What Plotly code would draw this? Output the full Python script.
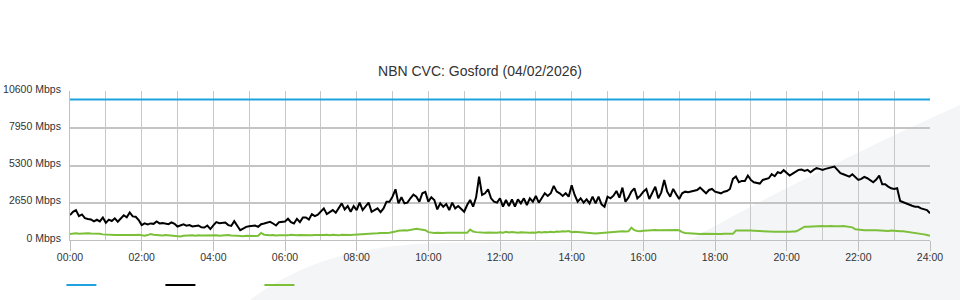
import numpy as np
import plotly.graph_objects as go

# ---- data (5-minute samples, 00:00 .. 24:00) ----
tick_labels = ["00:00", "02:00", "04:00", "06:00", "08:00", "10:00", "12:00",
               "14:00", "16:00", "18:00", "20:00", "22:00", "24:00"]
y_tick_values = [0, 2650, 5300, 7950, 10600]
y_tick_labels = ["0 Mbps", "2650 Mbps", "5300 Mbps", "7950 Mbps", "10600 Mbps"]

capacity_mbps = 10000

traffic_mbps = [
    1770, 2000, 2130, 1700, 1820, 1550, 1500, 1460, 1320, 1440, 1320, 1600,
    1220, 1450, 1350, 1540, 1300, 1560, 1760, 1620, 1960, 1680, 1650, 1420,
    1060, 1180, 1110, 1180, 1150, 1320, 1180, 1200, 1190, 1130, 1260, 1150,
    960, 1010, 1110, 1020, 1060, 960, 980, 1030, 900, 890, 1030, 780,
    1040, 1270, 1200, 1210, 1250, 1060, 1000, 1340, 980,
    697, 816, 935, 983, 1007, 1031, 935, 1127, 1175, 1222, 1294, 1175,
    1031, 1270, 1270, 1318, 1509, 1270, 1175, 1509, 1270, 1605, 1605, 1461,
    1843, 1700, 1795, 1986, 2249, 1843, 2010, 2130, 1938, 2249, 2607, 2177,
    2416, 2010, 2416, 2130, 2655, 2130, 2368, 2655, 2010, 2130, 2249, 1986,
    2249, 2727, 2727, 3085, 3610, 2607, 3038, 2607, 2655, 2966, 3229,
    3085, 2727, 3324, 3420, 2727, 3038, 2847, 2177, 2607, 2368, 2560, 2130,
    2655, 2249, 2416, 2177, 2010, 2488, 2847, 2368, 3038, 4513, 3205, 3324,
    3610, 2966, 2727, 2655, 2966, 2368, 2847, 2416, 2894, 2368, 2894, 2607,
    2966, 2488, 2966, 2727, 3133, 2655, 2966, 3324, 3133, 3324, 3849, 3443,
    3324, 3133, 3324, 3085, 3897, 3205, 2727, 2966, 2655, 2894,
    2604, 3081, 2604, 3081, 2532, 2365, 3081, 2962, 3153, 3487, 3010, 3726,
    2723, 3010, 3440, 3678, 2962, 3153, 3440, 3630, 2914, 3320, 3797, 2962,
    3392, 4274, 3440, 3081, 3630, 3249, 2914, 3320, 3440, 3392, 3440, 3487,
    3559, 3726, 3487, 3320, 3559, 3630, 3440, 3392, 3320, 3440, 3487, 3630,
    4346, 4513, 4107, 4203, 4203, 4584, 4274, 4107, 4036,
    4012, 4274, 4346, 4393, 4680, 4536, 4823, 4751, 4966, 4751, 4584, 4727,
    4871, 4990, 5014, 4918, 4990, 4823, 4990, 5109, 5061, 4990, 5061, 5109,
    5157, 5228, 4990, 4751, 4680, 4584, 4513, 4680, 4441, 4274, 4346, 4489,
    4393, 4274, 4107, 4298, 4584, 3964, 3964, 3797, 3678, 3630, 3678, 2771,
    2675, 2604, 2532, 2437, 2365, 2365, 2246, 2198, 2127, 1900,
]

upload_mbps = [
    420, 460, 480, 450, 470, 440, 480, 460, 470, 430, 440, 400,
    380, 360, 390, 350, 360, 340, 350, 360, 350, 340, 360, 380,
    330, 300, 350, 420, 380, 350, 330, 320, 360, 340, 330, 310,
    280, 250, 300, 320, 310, 330, 300, 340, 320, 330, 310, 300,
    320, 340, 300, 330, 310, 350, 320, 330, 300, 280, 260, 300,
    280, 290, 280, 300, 500, 380, 340, 330, 360, 320, 340, 330,
    350, 330, 370, 340, 330, 360, 350, 330, 370, 340, 360, 350,
    360, 350, 380, 340, 370, 360, 330, 380, 360, 390, 350, 370,
    380, 400, 390, 420, 400, 430, 450, 480, 500, 470, 490, 520,
    540, 600, 650, 690, 700, 680, 720, 780, 800, 760, 740, 700,
    560, 520, 500, 510, 490, 500, 510, 500, 490, 500, 510, 520,
    500, 520, 740, 600, 560, 540, 560, 520, 540, 520, 530, 520,
    550, 520, 580, 530, 560, 540, 510, 550, 530, 490, 520, 540,
    520, 560, 530, 570, 550, 590, 560, 600, 580, 620, 600, 640,
    560, 580, 560, 540, 520, 500, 520, 500, 460, 480, 500, 490,
    500, 520, 560, 580, 600, 620, 600, 620, 880, 700, 640, 620,
    660, 680, 700, 690, 720, 700, 710, 690, 700, 720, 700, 710,
    690, 560, 500, 480, 470, 450, 440, 430, 440, 430, 430, 440,
    430, 420, 430, 440, 430, 430, 440, 670, 680, 670, 680, 670,
    670, 660, 650, 600, 580, 570, 580, 570, 580, 590, 580, 590,
    600, 590, 600, 610, 700, 850, 950, 940, 960, 950, 970, 980,
    990, 980, 1000, 990, 980, 950, 970, 990, 960, 980, 900, 760,
    720, 700, 690, 700, 680, 690, 700, 680, 690, 660, 640, 680,
    650, 660, 620, 630, 600, 580, 560, 540, 500, 460, 400, 350,
    300,
]

hours = np.arange(len(traffic_mbps)) * 5 / 60.0

fig = go.Figure()
fig.add_trace(go.Scatter(x=[0, 24], y=[capacity_mbps, capacity_mbps], mode="lines",
                         line=dict(color="#1ea3e0", width=2), name="", showlegend=True))
fig.add_trace(go.Scatter(x=hours, y=traffic_mbps, mode="lines",
                         line=dict(color="#000000", width=2), name="", showlegend=True))
fig.add_trace(go.Scatter(x=hours[:len(upload_mbps)], y=upload_mbps, mode="lines",
                         line=dict(color="#7cc03a", width=2), name="", showlegend=True))

# decorative background swoosh (pixel -> paper)
def px(x):
    return (x - 70) / 860.0

def py(y):
    return (240 - y) / 149.0

path = (f"M {px(250)},{py(300)} "
        f"C {px(300)},{py(262)} {px(360)},{py(245)} {px(440)},{py(243)} "
        f"L {px(690)},{py(240)} "
        f"C {px(760)},{py(200)} {px(860)},{py(150)} {px(960)},{py(105)} "
        f"L {px(960)},{py(300)} Z")

fig.update_layout(
    width=960, height=300,
    margin=dict(l=70, r=30, t=91, b=60, autoexpand=False),
    paper_bgcolor="white",
    plot_bgcolor="rgba(0,0,0,0)",
    font=dict(family="Liberation Sans, Arial, sans-serif", size=10.5, color="#333333"),
    title=dict(text="NBN CVC: Gosford (04/02/2026)", x=0.5, xref="container",
               y=1 - 71 / 300, yref="container", yanchor="middle",
               font=dict(size=14, color="#333333")),
    showlegend=True,
    legend=dict(orientation="h", x=-0.010, xanchor="left", y=-0.302, yanchor="middle",
                entrywidth=54, entrywidthmode="pixels", bgcolor="rgba(0,0,0,0)",
                itemwidth=30, font=dict(size=11)),
    shapes=[dict(type="path", xref="paper", yref="paper", path=path,
                 fillcolor="#f4f5f7", line=dict(width=0), layer="below")],
)

fig.update_xaxes(
    range=[0, 24], tickvals=list(range(0, 25, 2)), ticktext=tick_labels,
    ticks="outside", ticklen=10, tickcolor="#c0c0c0", tickwidth=1,
    showgrid=True, gridcolor="#c8c8c8", gridwidth=1,
    minor=dict(dtick=1, tick0=0, showgrid=True, gridcolor="#c8c8c8", gridwidth=1),
    showline=True, linecolor="#c0c0c0", linewidth=1,
    zeroline=False, fixedrange=True, automargin=False, ticklabelstandoff=-3,
)
fig.update_yaxes(
    range=[0, 10600], tickvals=y_tick_values, ticktext=y_tick_labels,
    ticks="", showgrid=True, gridcolor="#c4c4c4", gridwidth=2,
    showline=True, linecolor="#c0c0c0", linewidth=1,
    zeroline=False, ticklabelstandoff=6, automargin=False, ticklabelshift=-2,
)

fig.write_html("out.html")
